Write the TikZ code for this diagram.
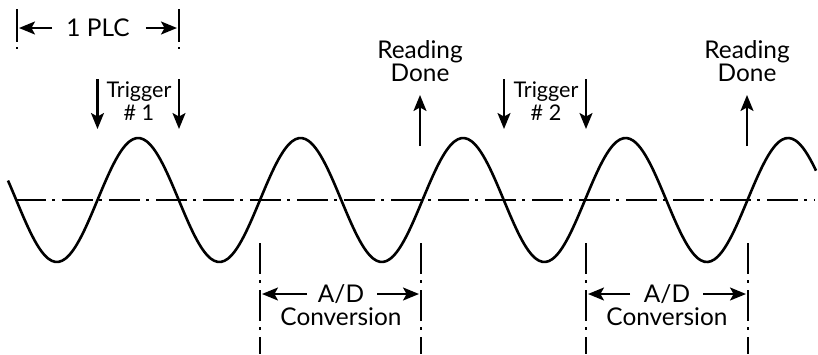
\documentclass[tikz,border=0pt]{standalone}
\usepackage{fontspec}
\setmainfont{Lato}
\usetikzlibrary{arrows.meta}
\begin{document}
\begin{tikzpicture}[x=0.5pt,y=-0.5pt,
  lbl/.style={inner sep=0pt,align=center,font=\fontsize{12.2}{11.6}\selectfont},
  trig/.style={lbl,font=\fontsize{10.8}{11.6}\selectfont},
  arr/.style={line width=1.05pt,-{Stealth[length=8pt,width=6.5pt,inset=1.8pt]}},
  dashdot/.style={line width=1pt,dash pattern=on 15.5pt off 3pt on 1.5pt off 3.5pt},
  wave/.style={line width=1.3pt}]
\useasboundingbox (0,0) rectangle (818,354);
% axis
\coordinate (axL) at (15,200);
\coordinate (axR) at (815,200);
\draw[dashdot] (axL) -- (axR);
% sine wave
\draw[wave,smooth,samples=240,domain=8:816,variable=\t]
  plot (\t,{200-62*sin(2.21538*(\t-97.5))});
% 1 PLC
\coordinate (p1t) at (17,9);  \coordinate (p1b) at (17,50);
\coordinate (p2t) at (179,9); \coordinate (p2b) at (179,50);
\draw[dashdot,dash pattern=on 16.5pt off 2.5pt on 1pt off 5pt] (p1t) -- (p1b);
\draw[dashdot,dash pattern=on 16.5pt off 2.5pt on 1pt off 5pt] (p2t) -- (p2b);
\node[lbl] (plc) at (98,28) {1 PLC};
\coordinate (plcL) at (19,28); \coordinate (plcR) at (177,28);
\draw[arr] (plc.west) ++(-14,0) coordinate (plcLs) (plcLs) -- (plcL);
\draw[arr] (plc.east) ++(16,0) coordinate (plcRs) (plcRs) -- (plcR);
% Trigger 1
\node[trig] (trig1) at (139,101) {Trigger\\\# 1};
\coordinate (t1a) at (97.5,79); \coordinate (t1b) at (97.5,129);
\coordinate (t1c) at (179,79); \coordinate (t1d) at (179,129);
\draw[arr] (t1a) -- (t1b);
\draw[arr] (t1c) -- (t1d);
% Trigger 2
\node[trig] (trig2) at (546,101) {Trigger\\\# 2};
\coordinate (t2a) at (504,79); \coordinate (t2b) at (504,129);
\coordinate (t2c) at (586,79); \coordinate (t2d) at (586,129);
\draw[arr] (t2a) -- (t2b);
\draw[arr] (t2c) -- (t2d);
% Reading Done
\node[lbl] (rd1) at (420,61) {Reading\\Done};
\coordinate (r1a) at (420,146); \coordinate (r1b) at (420,95);
\draw[arr] (r1a) -- (r1b);
\node[lbl] (rd2) at (747,61) {Reading\\Done};
\coordinate (r2a) at (747,146); \coordinate (r2b) at (747,95);
\draw[arr] (r2a) -- (r2b);
% A/D Conversion 1
\coordinate (a1t) at (260,243); \coordinate (a1b) at (260,354);
\coordinate (a2t) at (421,243); \coordinate (a2b) at (421,354);
\draw[dashdot] (a1t) -- (a1b);
\draw[dashdot] (a2t) -- (a2b);
\node[lbl] (ad1) at (341,305) {A/D\\Conversion};
\coordinate (ad1Ls) at (307,294); \coordinate (ad1Le) at (262,294);
\coordinate (ad1Rs) at (377,294); \coordinate (ad1Re) at (419,294);
\draw[arr] (ad1Ls) -- (ad1Le);
\draw[arr] (ad1Rs) -- (ad1Re);
% A/D Conversion 2
\coordinate (b1t) at (586,243); \coordinate (b1b) at (586,354);
\coordinate (b2t) at (748,243); \coordinate (b2b) at (748,354);
\draw[dashdot] (b1t) -- (b1b);
\draw[dashdot] (b2t) -- (b2b);
\node[lbl] (ad2) at (667,305) {A/D\\Conversion};
\coordinate (ad2Ls) at (630,294); \coordinate (ad2Le) at (588,294);
\coordinate (ad2Rs) at (703,294); \coordinate (ad2Re) at (746,294);
\draw[arr] (ad2Ls) -- (ad2Le);
\draw[arr] (ad2Rs) -- (ad2Re);
\end{tikzpicture}
\end{document}
